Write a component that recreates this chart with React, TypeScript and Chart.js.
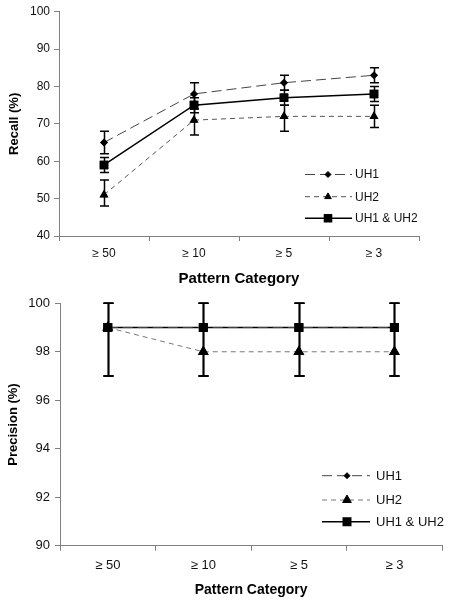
import React, { useEffect, useRef } from "react";
import { Chart, registerables } from "chart.js";
import { drawPoint } from "chart.js/helpers";

Chart.register(...registerables);

const categories = ["≥ 50", "≥ 10", "≥ 5", "≥ 3"];
const seriesNames = ["UH1", "UH2", "UH1 & UH2"];

// Recall (%)
const recallUH1 = [65, 78, 81, 83];
const recallUH1Low = [62, 75, 79, 81];
const recallUH1High = [68, 81, 83, 85];
const recallUH2 = [51, 71, 72, 72];
const recallUH2Low = [48, 67, 68, 69];
const recallUH2High = [55, 74, 75, 75];
const recallBoth = [59, 75, 77, 78];
const recallBothLow = [57, 73, 75, 76];
const recallBothHigh = [61, 77, 79, 80];

// Precision (%)
const precisionUH1 = [99, 99, 99, 99];
const precisionUH2 = [99, 98, 98, 98];
const precisionBoth = [99, 99, 99, 99];
const precisionLow = [97, 97, 97, 97];
const precisionHigh = [100, 100, 100, 100];

const FONT = "'Liberation Sans', Arial, sans-serif";

const errorBarPlugin = {
  id: "errorBars",
  afterDatasetsDraw(chart: any, _args: any, opts: any) {
    const ctx = chart.ctx;
    const yScale = chart.scales.y;
    ctx.save();
    ctx.strokeStyle = "#000";
    ctx.lineWidth = opts.lineWidth || 1.5;
    ctx.setLineDash([]);
    const cap = opts.cap || 4.5;
    chart.data.datasets.forEach((ds: any, di: number) => {
      if (!ds.errLow) return;
      const meta = chart.getDatasetMeta(di);
      meta.data.forEach((el: any, i: number) => {
        const x = Math.round(el.x) + 0.5;
        const yl = yScale.getPixelForValue(ds.errLow[i]);
        const yh = yScale.getPixelForValue(ds.errHigh[i]);
        ctx.beginPath();
        ctx.moveTo(x, yl);
        ctx.lineTo(x, yh);
        ctx.moveTo(x - cap, yl);
        ctx.lineTo(x + cap, yl);
        ctx.moveTo(x - cap, yh);
        ctx.lineTo(x + cap, yh);
        ctx.stroke();
      });
    });
    // redraw markers on top
    chart.data.datasets.forEach((ds: any, di: number) => {
      const meta = chart.getDatasetMeta(di);
      meta.data.forEach((el: any) => {
        ctx.fillStyle = "#000";
        ctx.strokeStyle = "#000";
        drawPoint(ctx, { pointStyle: ds.pointStyle, radius: ds.pointRadius, rotation: 0, borderWidth: 1 }, el.x, el.y);
      });
    });
    ctx.restore();
  },
};

const customLegendPlugin = {
  id: "customLegend",
  afterDraw(chart: any, _args: any, opts: any) {
    const ctx = chart.ctx;
    ctx.save();
    chart.data.datasets.forEach((ds: any, i: number) => {
      const y = opts.rows[i];
      ctx.beginPath();
      ctx.strokeStyle = ds.borderColor;
      ctx.lineWidth = ds.borderWidth;
      ctx.setLineDash(ds.borderDash || []);
      ctx.moveTo(opts.x0, y);
      ctx.lineTo(opts.x1, y);
      ctx.stroke();
      ctx.setLineDash([]);
      ctx.fillStyle = "#000";
      ctx.strokeStyle = "#000";
      drawPoint(ctx, { pointStyle: ds.pointStyle, radius: ds.pointRadius, rotation: 0, borderWidth: 1 }, opts.xm, y);
      ctx.fillStyle = "#111";
      ctx.font = `${opts.fontSize}px ${FONT}`;
      ctx.textBaseline = "middle";
      ctx.textAlign = "left";
      ctx.fillText(ds.label, opts.xt, y + 0.5);
    });
    ctx.restore();
  },
};

function buildConfig(p: any) {
  return {
    type: "line",
    data: {
      labels: categories,
      datasets: [
        {
          label: seriesNames[0],
          data: p.d1,
          errLow: p.l1,
          errHigh: p.h1,
          borderColor: "#444",
          borderWidth: 1,
          borderDash: [10, 5],
          pointStyle: "rectRot",
          pointRadius: p.r1,
          backgroundColor: "#000",
          pointBackgroundColor: "#000",
          pointBorderColor: "#000",
          tension: 0,
        },
        {
          label: seriesNames[1],
          data: p.d2,
          errLow: p.l2,
          errHigh: p.h2,
          borderColor: p.c2,
          borderWidth: 1,
          borderDash: [5, 4],
          pointStyle: "triangle",
          pointRadius: p.r2,
          backgroundColor: "#000",
          pointBackgroundColor: "#000",
          pointBorderColor: "#000",
          tension: 0,
        },
        {
          label: seriesNames[2],
          data: p.d3,
          errLow: p.l3,
          errHigh: p.h3,
          borderColor: "#000",
          borderWidth: 1.5,
          pointStyle: "rect",
          pointRadius: p.r3,
          backgroundColor: "#000",
          pointBackgroundColor: "#000",
          pointBorderColor: "#000",
          tension: 0,
        },
      ],
    },
    options: {
      responsive: false,
      animation: false,
      events: [],
      layout: { padding: p.padding },
      plugins: {
        legend: { display: false },
        tooltip: { enabled: false },
        errorBars: { cap: p.cap, lineWidth: 1.5 },
        customLegend: p.legend,
      },
      scales: {
        x: {
          type: "category",
          offset: true,
          grid: { display: true, drawOnChartArea: false, drawTicks: true, tickLength: 5, color: "#808080", offset: true },
          border: { display: true, color: "#808080", width: 1 },
          ticks: { color: "#111", font: { family: FONT, size: p.tickSize }, padding: p.xTickPad, maxRotation: 0 },
          title: {
            display: true,
            text: "Pattern Category",
            color: "#000",
            font: { family: FONT, size: p.xTitleSize, weight: "bold" },
            padding: { top: 0, bottom: p.xTitlePad },
          },
          afterFit(scale: any) {
            scale.height = p.xHeight;
          },
        },
        y: {
          min: p.yMin,
          max: p.yMax,
          grid: { display: true, drawOnChartArea: false, drawTicks: true, tickLength: 5, color: "#808080" },
          border: { display: true, color: "#808080", width: 1 },
          ticks: { stepSize: p.yStep, color: "#111", font: { family: FONT, size: p.tickSize }, padding: p.yTickPad },
          title: {
            display: true,
            text: p.yTitle,
            color: "#000",
            font: { family: FONT, size: 13, weight: "bold" },
            padding: { top: p.yTitlePad, bottom: 0 },
          },
          afterFit(scale: any) {
            scale.width = p.yWidth;
          },
        },
      },
    },
    plugins: [errorBarPlugin, customLegendPlugin],
  };
}

function ChartCanvas({ config, top, width, height }: any) {
  const ref = useRef<HTMLCanvasElement>(null);
  useEffect(() => {
    const chart = new Chart(ref.current as HTMLCanvasElement, config as any);
    return () => chart.destroy();
  }, []);
  return (
    <canvas
      ref={ref}
      width={width}
      height={height}
      style={{ position: "absolute", left: 0, top, width, height }}
    />
  );
}

export default function App() {
  const recallConfig = buildConfig({
    d1: recallUH1, l1: recallUH1Low, h1: recallUH1High,
    d2: recallUH2, l2: recallUH2Low, h2: recallUH2High,
    d3: recallBoth, l3: recallBothLow, h3: recallBothHigh,
    c2: "#555",
    r1: 3, r2: 3.8, r3: 5,
    cap: 4.5,
    padding: { left: 0, top: 11.7, right: 30, bottom: 0 },
    xHeight: 60,
    yWidth: 59,
    yMin: 40, yMax: 100, yStep: 10,
    tickSize: 12,
    xTickPad: 5,
    yTickPad: 4,
    xTitleSize: 15,
    xTitlePad: 8,
    yTitle: "Recall (%)",
    yTitlePad: 7,
    legend: { rows: [174.5, 196.7, 218.3], x0: 305, x1: 352, xm: 328, xt: 355, fontSize: 12 },
  });
  const precisionConfig = buildConfig({
    d1: precisionUH1, l1: precisionLow, h1: precisionHigh,
    d2: precisionUH2, l2: precisionLow, h2: precisionHigh,
    d3: precisionBoth, l3: precisionLow, h3: precisionHigh,
    c2: "#777",
    r1: 3, r2: 5, r3: 5.3,
    cap: 5,
    padding: { left: 0, top: 13.3, right: 6, bottom: 0 },
    xHeight: 58.3,
    yWidth: 60,
    yMin: 90, yMax: 100, yStep: 2,
    tickSize: 13,
    xTickPad: 6.5,
    yTickPad: 5,
    xTitleSize: 14,
    xTitlePad: 5.6,
    yTitle: "Precision (%)",
    yTitlePad: 5.5,
    legend: { rows: [185.7, 210, 231.7], x0: 322, x1: 370, xm: 347, xt: 376, fontSize: 13 },
  });
  return (
    <div style={{ position: "fixed", left: 0, top: 0, width: 449, height: 604, background: "#fff" }}>
      <ChartCanvas config={recallConfig} top={0} width={449} height={296} />
      <ChartCanvas config={precisionConfig} top={290} width={449} height={314} />
    </div>
  );
}
